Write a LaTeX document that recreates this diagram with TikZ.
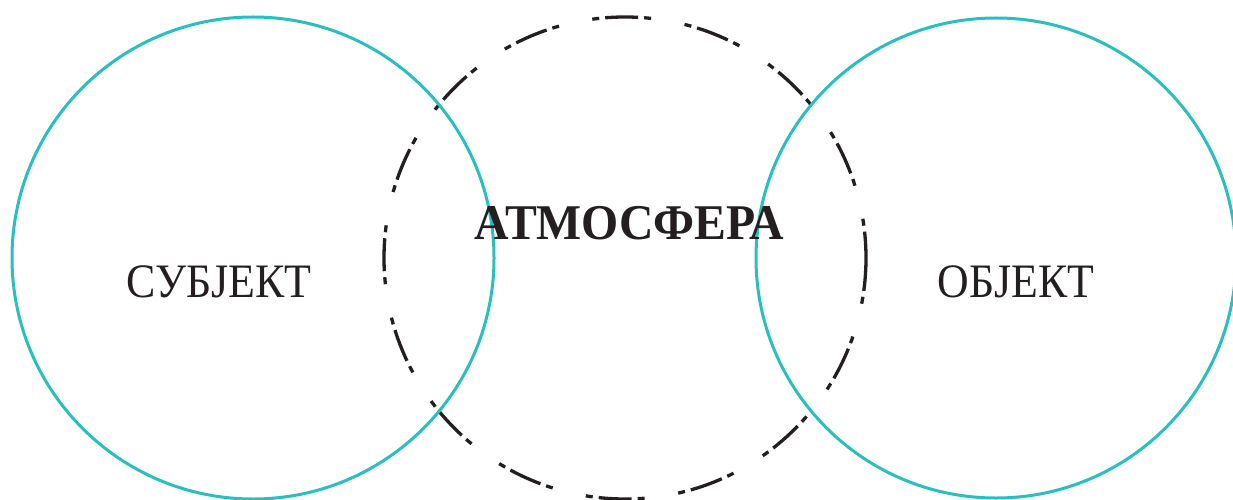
\documentclass[tikz,border=0pt]{standalone}
\usepackage{fontspec}
\usepackage{graphicx}
\setmainfont{Liberation Serif}
\definecolor{teal1}{RGB}{42,190,190}
\definecolor{ink}{RGB}{35,31,32}
\begin{document}
\begin{tikzpicture}[x=1pt,y=-1pt,
  ring/.style={draw=teal1,line width=3pt},
  atmo/.style={draw=ink,line width=3.3pt,dash pattern=on 33pt off 6pt on 7pt off 34pt on 7pt off 6pt},
  lbl/.style={text=ink,font=\fontsize{48}{52}\selectfont,anchor=base,inner sep=0pt},
  blbl/.style={text=ink,font=\fontsize{50}{54}\selectfont\bfseries,anchor=base,inner sep=0pt}]
\useasboundingbox (0,0) rectangle (1233,500);
\draw[atmo] (625,258) circle[radius=241];
\draw[ring] (253,258) circle[radius=241];
\draw[ring] (996,258) circle[radius=240];
\node[lbl] (subj) at (219,297) {\scalebox{0.915}[1]{СУБЈЕКТ}};
\node[blbl] (atm) at (629.5,239) {\scalebox{0.955}[1]{АТМОСФЕРА}};
\node[lbl] (obj) at (1016,297) {\scalebox{0.912}[1]{ОБЈЕКТ}};
\end{tikzpicture}
\end{document}
